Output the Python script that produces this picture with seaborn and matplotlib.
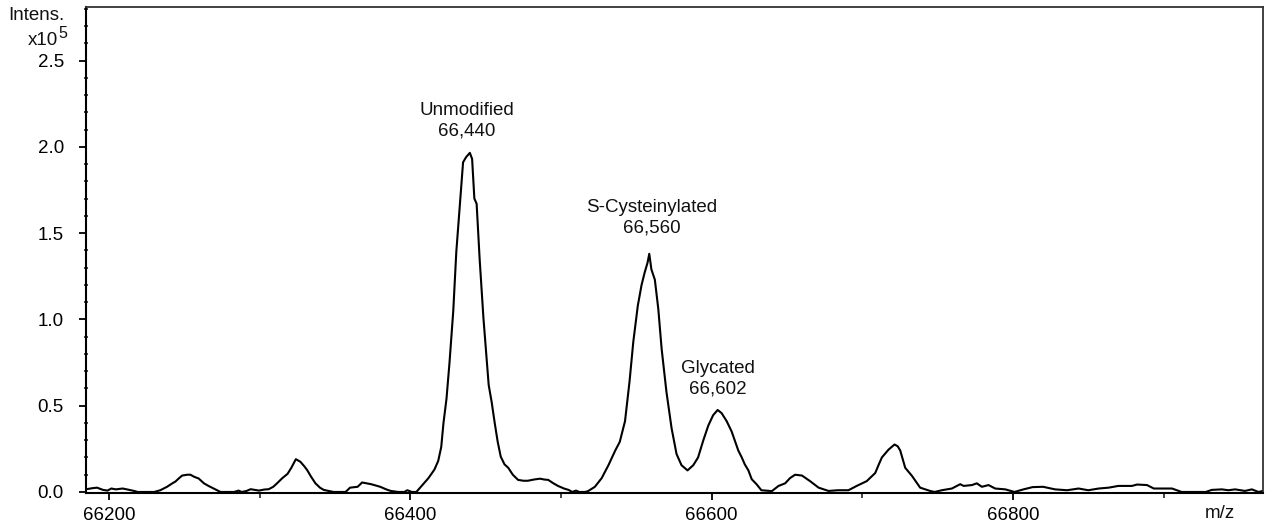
import numpy as np
import pandas as pd
import matplotlib
matplotlib.use("Agg")
import matplotlib.pyplot as plt
import seaborn as sns
from matplotlib.ticker import MultipleLocator

# ---- data ----
mz = [66185, 66189, 66192, 66196, 66199, 66201.5, 66204.5, 66207, 66209, 66213.5,
      66217, 66219, 66225, 66230, 66234, 66238.5, 66242, 66244, 66246.5, 66248.5,
      66252, 66254, 66256.5, 66259.5, 66263, 66266, 66269.5, 66274, 66283, 66286,
      66288, 66291, 66294, 66299.5, 66303, 66306, 66309, 66311.5, 66315, 66318.5,
      66321, 66324, 66327, 66329.5, 66331.5, 66334, 66337, 66340, 66342.5, 66349,
      66357, 66360, 66363, 66365, 66368, 66371, 66374, 66380, 66384, 66387,
      66392, 66396, 66398, 66401, 66404, 66407.5, 66412, 66416, 66418.5, 66420.5,
      66422, 66424, 66426, 66428.5, 66430.5, 66433, 66435, 66437, 66439.5, 66441,
      66442.5, 66444, 66446, 66448.5, 66452, 66454, 66456, 66458, 66460, 66462.5,
      66465, 66468, 66471.5, 66475, 66478, 66482, 66486, 66489, 66491.5, 66495,
      66498, 66502, 66505, 66507.5, 66510, 66512, 66516, 66518, 66522.5, 66527,
      66531.5, 66536, 66539, 66542.5, 66545.5, 66548, 66551, 66553.5, 66555.5, 66557.5,
      66558.6, 66560, 66562.3, 66564.6, 66566.8, 66570, 66573.4, 66576.7, 66580, 66584,
      66587.8, 66591, 66594.5, 66597.8, 66601, 66604, 66606.6, 66610, 66613.3, 66617.7,
      66620, 66622, 66624.4, 66626.6, 66630, 66633, 66640, 66644.4, 66648.8, 66652,
      66655.4, 66660, 66665.3, 66671, 66677.6, 66684, 66690.8, 66696.3, 66703, 66708.6,
      66711, 66713, 66717.4, 66721.4, 66723.5, 66725.2, 66728.5, 66733, 66738.4, 66745,
      66748, 66752.8, 66759.5, 66765, 66767.3, 66772.8, 66776, 66779.4, 66783.8, 66788.2,
      66795, 66801, 66807, 66813, 66820, 66828, 66836, 66843.6, 66850, 66857,
      66863.6, 66870, 66879, 66882.4, 66889, 66893.5, 66905.6, 66912, 66928, 66932,
      66938.7, 66943, 66947.5, 66954, 66958.6, 66963, 66966]
intensity = [0.016, 0.022, 0.025, 0.012, 0.008, 0.02, 0.015, 0.018, 0.02, 0.012,
             0.005, 0.0, 0.0, 0.0, 0.01, 0.03, 0.05, 0.06, 0.08, 0.095,
             0.10, 0.10, 0.088, 0.078, 0.05, 0.035, 0.02, 0.0, 0.0, 0.008,
             0.0, 0.005, 0.016, 0.008, 0.014, 0.016, 0.03, 0.05, 0.08, 0.105,
             0.14, 0.19, 0.175, 0.15, 0.127, 0.09, 0.05, 0.025, 0.012, 0.0,
             0.0, 0.025, 0.028, 0.03, 0.055, 0.05, 0.045, 0.03, 0.015, 0.006,
             0.0, 0.0, 0.01, 0.0, 0.0, 0.035, 0.08, 0.13, 0.18, 0.26,
             0.40, 0.54, 0.75, 1.05, 1.39, 1.68, 1.91, 1.94, 1.965, 1.93,
             1.70, 1.67, 1.35, 1.01, 0.62, 0.52, 0.40, 0.29, 0.205, 0.16,
             0.14, 0.10, 0.07, 0.065, 0.065, 0.072, 0.077, 0.072, 0.07, 0.05,
             0.035, 0.02, 0.012, 0.0, 0.008, 0.0, 0.0, 0.005, 0.03, 0.08,
             0.155, 0.24, 0.29, 0.41, 0.64, 0.87, 1.08, 1.2, 1.27, 1.33,
             1.38, 1.29, 1.23, 1.06, 0.83, 0.58, 0.37, 0.22, 0.155, 0.125,
             0.155, 0.2, 0.30, 0.385, 0.445, 0.475, 0.457, 0.41, 0.35, 0.24,
             0.20, 0.16, 0.125, 0.074, 0.043, 0.01, 0.005, 0.035, 0.05, 0.08,
             0.1, 0.095, 0.063, 0.025, 0.006, 0.01, 0.01, 0.035, 0.063, 0.11,
             0.16, 0.2, 0.245, 0.275, 0.265, 0.24, 0.14, 0.093, 0.025, 0.006,
             0.0, 0.01, 0.02, 0.045, 0.035, 0.04, 0.05, 0.03, 0.04, 0.02,
             0.015, 0.0, 0.015, 0.028, 0.03, 0.015, 0.01, 0.02, 0.01, 0.02,
             0.025, 0.035, 0.035, 0.043, 0.04, 0.02, 0.02, 0.0, 0.0, 0.012,
             0.015, 0.01, 0.015, 0.006, 0.015, 0.0, 0.006]

peak_labels = ["Unmodified\n66,440", "S-Cysteinylated\n66,560", "Glycated\n66,602"]
peak_label_x = [66437.5, 66560, 66604]
peak_label_y = [2.15, 1.59, 0.655]

x_major_ticks = [66200, 66400, 66600, 66800]

# ---- plotting ----
sns.set_theme(style="ticks")
plt.rcParams["font.family"] = ["Liberation Sans", "DejaVu Sans"]

df = pd.DataFrame({"mz": mz, "intensity": intensity})

fig = plt.figure(figsize=(12.68, 5.29), dpi=100)
ax = fig.add_axes([86 / 1268, 1 - 493 / 529, (1263 - 86) / 1268, (493 - 7) / 529])

sns.lineplot(data=df, x="mz", y="intensity", ax=ax, color="black",
             linewidth=1.5, estimator=None, sort=False)

ax.set_xlim(66184.7, 66966)
ax.set_ylim(-0.006, 2.81)
ax.set_xlabel("")
ax.set_ylabel("")

ax.set_xticks(x_major_ticks)
ax.set_xticklabels([str(t) for t in x_major_ticks])
ax.xaxis.set_minor_locator(MultipleLocator(100))
ax.yaxis.set_major_locator(MultipleLocator(0.5))
ax.yaxis.set_minor_locator(MultipleLocator(0.1))
ax.yaxis.set_major_formatter(matplotlib.ticker.FormatStrFormatter("%.1f"))

ax.tick_params(axis="both", which="major", labelsize=13.5, colors="black",
               width=1.3, length=5)
ax.tick_params(axis="y", which="major", pad=11)
ax.tick_params(axis="x", which="major", pad=5)
ax.tick_params(axis="y", which="minor", direction="inout", length=3.5, width=1.2)
ax.tick_params(axis="x", which="minor", direction="out", length=3.5, width=1.2)

for side in ["left", "bottom"]:
    ax.spines[side].set_linewidth(1.5)
    ax.spines[side].set_color("black")
for side in ["top", "right"]:
    ax.spines[side].set_visible(True)
    ax.spines[side].set_linewidth(1.3)
    ax.spines[side].set_color("#333333")

for lab, lx, ly in zip(peak_labels, peak_label_x, peak_label_y):
    ax.text(lx, ly, lab, ha="center", va="center", multialignment="center",
            fontsize=13.5, color="#111111", linespacing=1.25)

fig.text(65 / 1268, 1 - 15 / 529, "Intens.", ha="right", va="center",
         fontsize=13.5, color="#111111")
fig.text(58 / 1268, 1 - 40 / 529, "x10", ha="right", va="center",
         fontsize=13.5, color="#111111")
fig.text(58.5 / 1268, 1 - 33 / 529, "5", ha="left", va="center",
         fontsize=11.5, color="#111111")
fig.text(1220 / 1268, 1 - 514 / 529, "m/z", ha="center", va="center",
         fontsize=13.5, color="#111111")

fig.savefig("out.png", dpi=100, facecolor="white")
